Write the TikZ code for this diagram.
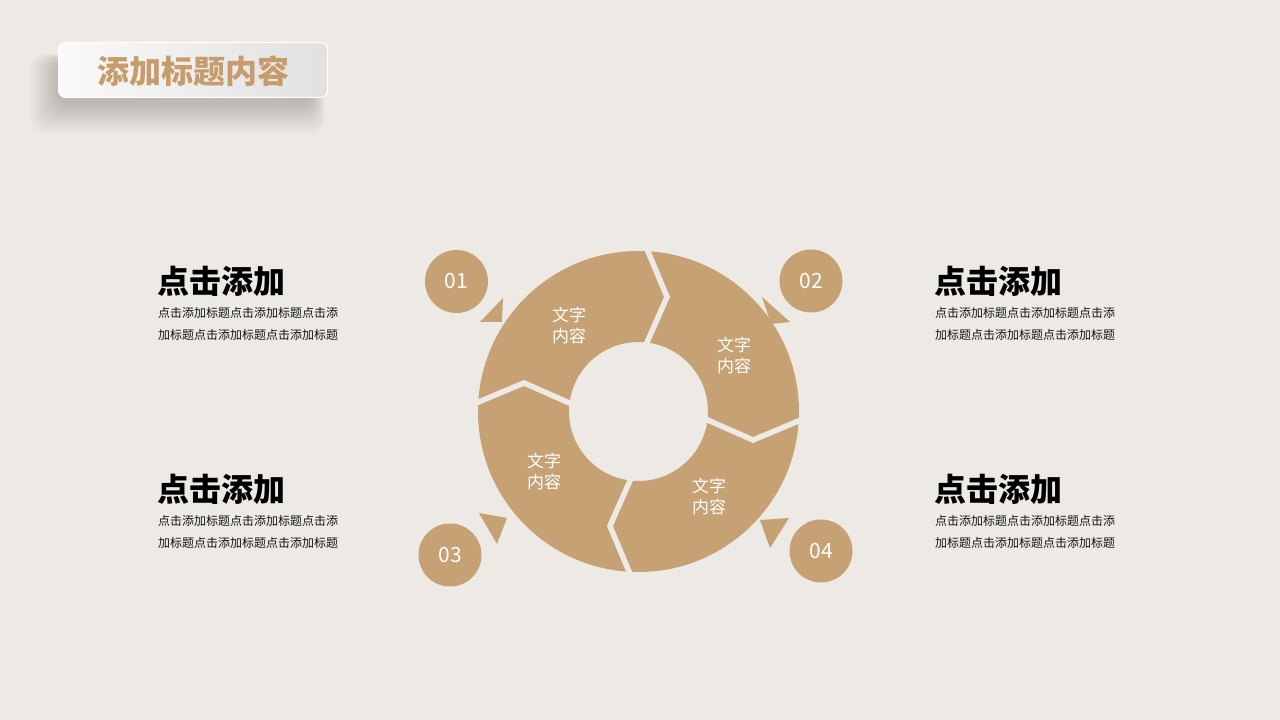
\documentclass[tikz,border=0pt]{standalone}
\usepackage{fontspec}
\setmainfont{Noto Sans CJK SC}
\usetikzlibrary{calc}
\definecolor{bg}{RGB}{237,234,229}
\definecolor{gold}{RGB}{197,161,116}
\definecolor{titlegold}{RGB}{198,156,108}
\definecolor{bodytxt}{RGB}{20,20,20}
\tikzset{
  numc/.style={circle, fill=gold, minimum size=63pt, inner sep=0pt, text=white, font=\fontsize{21}{21}\selectfont},
  ringtxt/.style={text=white, align=center, font=\fontsize{17}{21}\selectfont, inner sep=0pt},
  headtxt/.style={anchor=west, inner sep=0pt, text=black, font=\fontsize{32}{32}\selectfont\bfseries},
  bodyline/.style={anchor=west, inner sep=0pt, text=bodytxt, font=\fontsize{12}{12}\selectfont},
  gapline/.style={draw=bg, line width=5.5pt, line join=miter, line cap=butt},
  tri/.style={fill=gold}
}
\begin{document}
\begin{tikzpicture}[x=1pt,y=1pt]
\useasboundingbox (0,0) rectangle (1280,720);
\fill[bg] (0,0) rectangle (1280,720);
% title box shadow
\foreach \i in {1,...,24}{
  \fill[black, opacity=0.0065, rounded corners=14]
    (58-\i*1.2, 622-\i*1.3-5) rectangle (327+\i*0.5-14, 677+\i*0.3-18);
}
\node[draw=white, line width=1.2pt, rounded corners=7, left color=black!2, right color=black!12,
      minimum width=269pt, minimum height=55pt, inner sep=0pt, anchor=south west] (titlebox) at (58,622) {};
\node[text=titlegold, font=\fontsize{32}{32}\selectfont\bfseries, inner sep=0pt] (title) at (193,649) {添加标题内容};
% ring
\coordinate (C) at (638.5,308.5);
\fill[gold, even odd rule] (C) circle[radius=160.5] (C) circle[radius=69.5];
\foreach \k in {0,90,180,270}{
  \draw[gapline] ($(C)+(\k-1.5:172)$) -- ($(C)+(\k-14:118)$) -- ($(C)+(\k-3.5:58)$);
}
\node[ringtxt] (s1) at (569,394) {文字\\内容};
\node[ringtxt] (s2) at (734,364) {文字\\内容};
\node[ringtxt] (s3) at (544,248) {文字\\内容};
\node[ringtxt] (s4) at (709,223) {文字\\内容};
% triangles
\fill[tri] (503,422) -- (480,398) -- (502,398) -- cycle;
\fill[tri] (762,423) -- (790,398) -- (771,396) -- cycle;
\fill[tri] (479,207) -- (507,202) -- (497,176) -- cycle;
\fill[tri] (760,200) -- (789,202) -- (770,172) -- cycle;
% number circles
\node[numc] (n1) at (456.5,438.5) {01};
\node[numc] (n2) at (811,439) {02};
\node[numc] (n3) at (450,165) {03};
\node[numc] (n4) at (821,169) {04};
% text blocks
\node[headtxt] (h1) at (157,439) {点击添加};
\node[bodyline] (b1a) at (158,407) {点击添加标题点击添加标题点击添};
\node[bodyline] (b1b) at (158,385) {加标题点击添加标题点击添加标题};
\node[headtxt] (h2) at (157,231) {点击添加};
\node[bodyline] (b2a) at (158,199) {点击添加标题点击添加标题点击添};
\node[bodyline] (b2b) at (158,177) {加标题点击添加标题点击添加标题};
\node[headtxt] (h3) at (934,439) {点击添加};
\node[bodyline] (b3a) at (935,407) {点击添加标题点击添加标题点击添};
\node[bodyline] (b3b) at (935,385) {加标题点击添加标题点击添加标题};
\node[headtxt] (h4) at (934,231) {点击添加};
\node[bodyline] (b4a) at (935,199) {点击添加标题点击添加标题点击添};
\node[bodyline] (b4b) at (935,177) {加标题点击添加标题点击添加标题};
\end{tikzpicture}
\end{document}
